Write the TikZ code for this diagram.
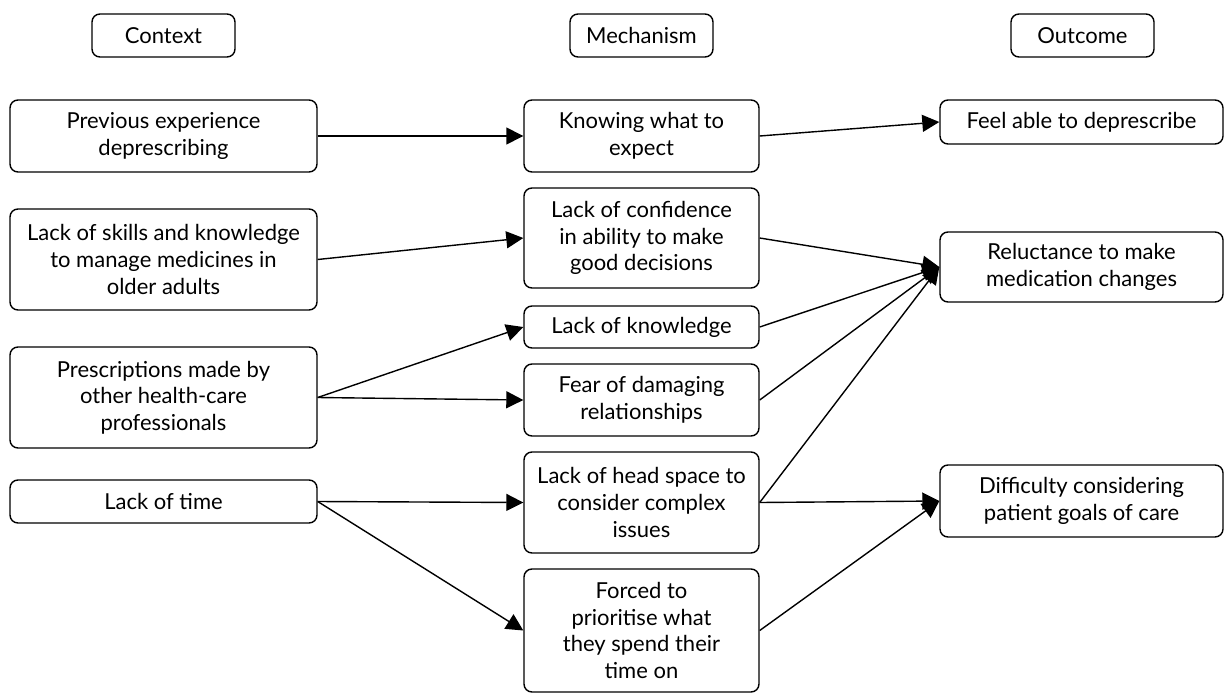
\documentclass[tikz,border=0pt]{standalone}
\usepackage{fontspec}
\setmainfont{Lato}
\usetikzlibrary{arrows.meta}
\tikzset{
  box/.style={draw, line width=1.4pt, rounded corners=8pt, align=center,
    inner sep=0pt, font=\fontsize{22}{26.7}\selectfont},
  ctxbox/.style={box, minimum width=307pt},
  mechbox/.style={box, minimum width=235pt},
  outbox/.style={box, minimum width=283pt},
  head/.style={box, minimum width=143pt, minimum height=43pt},
  link/.style={line width=1.4pt, -{Triangle[length=17pt,width=17pt]}}
}
\begin{document}
\begin{tikzpicture}[x=1pt,y=-1pt]
\useasboundingbox (0,0) rectangle (1225,693);

% column headings
\node[head] (hctx) at (163.5,35.5) {Context};
\node[head] (hmech) at (641.5,35.5) {Mechanism};
\node[head] (hout) at (1082.5,35.5) {Outcome};

% context column
\node[ctxbox, minimum height=72pt] (prev) at (163.5,136) {Previous experience\\deprescribing};
\node[ctxbox, minimum height=101pt] (skills) at (163.5,259.5) {Lack of skills and knowledge\\to manage medicines in\\older adults};
\node[ctxbox, minimum height=101pt] (presc) at (163.5,397.5) {Prescriptions made by\\other health-care\\professionals};
\node[ctxbox, minimum height=43pt] (time) at (163.5,501.5) {Lack of time};

% mechanism column
\node[mechbox, minimum height=72pt] (know) at (641.5,136) {Knowing what to\\expect};
\node[mechbox, minimum height=100pt] (conf) at (641.5,238) {Lack of confidence\\in ability to make\\good decisions};
\node[mechbox, minimum height=42pt] (knowl) at (641.5,327) {Lack of knowledge};
\node[mechbox, minimum height=72pt] (fear) at (641.5,400) {Fear of damaging\\relationships};
\node[mechbox, minimum height=101pt] (space) at (641.5,502.5) {Lack of head space to\\consider complex\\issues};
\node[mechbox, minimum height=123pt] (forced) at (641.5,630.5) {Forced to\\prioritise what\\they spend their\\time on};

% outcome column
\node[outbox, minimum height=44pt] (feel) at (1081.5,122) {Feel able to deprescribe};
\node[outbox, minimum height=70pt] (reluct) at (1081.5,267) {Reluctance to make\\medication changes};
\node[outbox, minimum height=72pt] (diff) at (1081.5,501) {Difficulty considering\\patient goals of care};

% context -> mechanism
\draw[link] (prev.east) -- (know.west);
\draw[link] (skills.east) -- (conf.west);
\draw[link] (presc.east) -- (knowl.west);
\draw[link] (presc.east) -- (fear.west);
\draw[link] (time.east) -- (space.west);
\draw[link] (time.east) -- (forced.west);

% mechanism -> outcome
\draw[link] (know.east) -- (feel.west);
\draw[link] (conf.east) -- (reluct.west);
\draw[link] (knowl.east) -- (reluct.west);
\draw[link] (fear.east) -- (reluct.west);
\draw[link] (space.east) -- (reluct.west);
\draw[link] (space.east) -- (diff.west);
\draw[link] (forced.east) -- (diff.west);
\end{tikzpicture}
\end{document}
